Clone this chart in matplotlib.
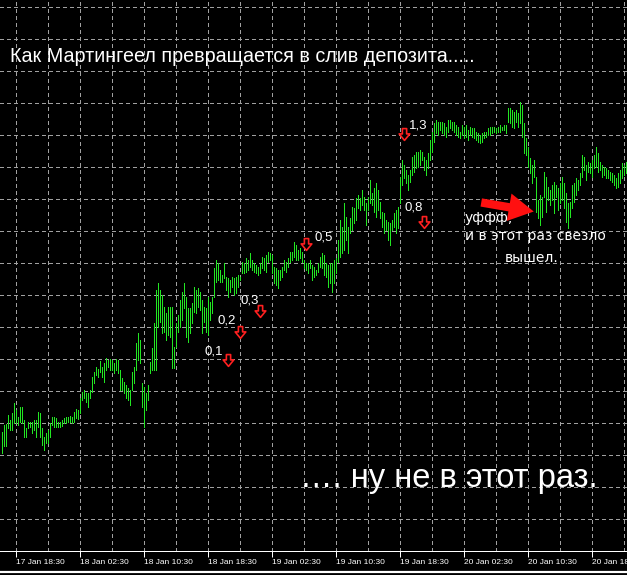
import numpy as np
import pandas as pd
import matplotlib
matplotlib.use("Agg")
import matplotlib.pyplot as plt
from matplotlib.path import Path
from matplotlib.lines import Line2D

# === DATA: M15 bars, prices in points above BASE ===
BASE = 1.2900
POINT = 0.0001
bar_times = pd.date_range("2012-01-17 16:45", periods=313, freq="15min")

high_pts = [
    68, 75, 76, 85, 80, 87, 97, 90, 83, 93, 93, 80, 72, 78, 78, 78, 80, 80, 88, 87,
    72, 63, 67, 70, 77, 83, 83, 82, 78, 78, 80, 82, 83, 83, 84, 83, 88, 91, 90, 102,
    108, 110, 107, 107, 110, 123, 128, 133, 131, 139, 133, 137, 142, 140, 141, 140, 137, 141, 140, 130,
    122, 118, 115, 112, 110, 128, 133, 157, 167, 160, 117, 113, 107, 115, 138, 152, 177, 210, 217, 210,
    205, 193, 187, 193, 193, 193, 153, 177, 185, 200, 208, 217, 203, 192, 192, 197, 213, 210, 212, 208,
    200, 193, 192, 203, 198, 203, 232, 240, 237, 230, 225, 237, 223, 222, 220, 223, 222, 223, 225, 223,
    238, 237, 242, 240, 247, 240, 237, 235, 233, 237, 243, 242, 245, 248, 247, 245, 233, 232, 230, 230,
    233, 240, 238, 242, 248, 248, 258, 255, 250, 252, 248, 240, 237, 237, 240,
    235, 233, 230, 237, 243, 247, 245, 237, 235, 237, 237, 240, 242, 260, 280, 273, 297, 283, 273, 282,
    293, 292, 302, 305, 302, 310, 303, 297, 303, 320, 307, 312, 317, 310, 298, 288, 287, 280, 278, 277,
    280, 287, 290, 293, 323, 340, 335, 330, 325, 330, 343, 345, 348, 348, 350, 348, 343, 340, 347, 360,
    368, 377, 380, 378, 378, 378, 377, 373, 380, 380, 378, 378, 375, 373, 368,
    375, 373, 375, 370, 373, 372, 372, 368, 367, 365, 367, 368, 368, 372, 373, 373, 373, 372, 373, 375,
    373, 375, 375, 392, 392, 390, 388, 390, 387, 398, 395, 377, 362, 353, 342, 335, 340, 323, 300, 305,
    303, 328, 323, 313, 310, 315, 318, 315, 312, 317, 323, 317, 307, 297, 298, 315, 317, 322, 320, 327,
    345, 343, 335, 338, 337, 340, 345, 353, 347, 338, 335, 333, 332, 330, 328, 327, 325, 322, 327, 330,
    337, 335, 338,
]
low_pts = [
    47, 54, 54, 72, 70, 70, 77, 77, 75, 78, 77, 63, 63, 72, 73, 67, 70, 63, 73, 63,
    55, 50, 57, 57, 63, 75, 73, 73, 73, 73, 74, 77, 77, 78, 78, 77, 78, 82, 81, 87,
    100, 102, 98, 93, 102, 108, 117, 125, 123, 128, 123, 118, 130, 133, 130, 130, 127, 130, 127, 110,
    110, 107, 102, 100, 95, 110, 117, 130, 140, 137, 93, 73, 90, 100, 127, 130, 130, 130, 173, 178,
    167, 168, 160, 165, 163, 132, 132, 153, 168, 173, 180, 192, 163, 158, 167, 177, 188, 187, 193, 190,
    167, 178, 168, 165, 180, 187, 203, 218, 220, 218, 218, 222, 210, 203, 208, 213, 205, 207, 213, 220,
    227, 227, 228, 230, 233, 230, 228, 227, 225, 227, 232, 230, 228, 238, 240, 227, 217, 215, 212, 220,
    223, 230, 228, 233, 238, 240, 243, 240, 240, 242, 238, 232, 230, 227, 232,
    220, 223, 225, 228, 233, 232, 225, 223, 213, 217, 208, 217, 227, 238, 243, 247, 250, 260, 247, 267,
    270, 277, 280, 292, 290, 295, 290, 275, 290, 297, 295, 288, 283, 290, 282, 273, 267, 270, 260, 255,
    270, 273, 267, 272, 297, 315, 322, 317, 310, 318, 325, 328, 332, 333, 335, 340, 330, 325, 332, 340,
    348, 358, 367, 365, 370, 367, 365, 363, 368, 372, 370, 368, 365, 363, 362,
    365, 362, 363, 360, 365, 363, 362, 360, 358, 357, 358, 362, 363, 365, 365, 367, 368, 367, 368, 368,
    370, 370, 367, 378, 377, 373, 372, 378, 373, 377, 363, 347, 345, 333, 327, 317, 323, 288, 282, 275,
    283, 303, 288, 300, 295, 300, 287, 303, 290, 297, 300, 292, 278, 272, 283, 292, 298, 305, 310, 315,
    323, 330, 320, 328, 327, 323, 332, 333, 328, 330, 323, 325, 322, 322, 320, 318, 315, 312, 313, 317,
    322, 325, 327,
]

# martingale sell entries: bar number, price (points), lot size
sell_bar = [113, 119, 129, 152, 211, 201]
sell_pts = [140, 168, 189, 256, 278, 366]
sell_lots = ["0,1", "0,2", "0,3", "0,5", "0,8", "1,3"]
# where each lot label sits relative to its arrow (pixels)
lot_offsets = [(-14, 8), (-13, 12), (-10, 11), (18, 7), (-10, 15), (15, 9)]

title = "Как Мартингеел превращается в слив депозита....."
note_top = "уффф,"
note_mid = "и в этот раз свезло"
note_bot = "вышел."
punchline = "…. ну не в этот раз."

high = BASE + np.array(high_pts) * POINT
low = BASE + np.array(low_pts) * POINT
idx = np.arange(len(bar_times))

# === FIGURE ===
W, H = 627, 575
fig = plt.figure(figsize=(W / 100, H / 100), dpi=100, facecolor="black")
ax = fig.add_axes([0, 24.5 / H, 1, 550.5 / H], facecolor="black")

ax.set_xlim(-0.75, 312.75)
ax.set_ylim(BASE - 50.5 * POINT, BASE + 500 * POINT)

# grid every 32 px like the terminal
grid_kw = dict(color="#a0a0a0", lw=0.72, ls=(0, (4, 4)), antialiased=False, zorder=1)
for gx in np.arange(7, 313, 16):
    ax.axvline(gx, **grid_kw)
for gy in np.arange(493.5, -40, -32):
    ax.axhline(BASE + gy * POINT, **grid_kw)

ax.vlines(idx, low, high, color="#22e622", lw=0.72, antialiased=False, zorder=3)

# sell arrows (hollow down arrow)
arrow_path = Path([(-0.18, 0.5), (0.18, 0.5), (0.18, 0.05), (0.45, 0.05), (0, -0.5),
                   (-0.45, 0.05), (-0.18, 0.05), (-0.18, 0.5)], closed=True)
ax.plot(sell_bar, BASE + np.array(sell_pts) * POINT, ls="none", marker=arrow_path,
        ms=8.5, mfc="black", mec="#ff2020", mew=1.2, zorder=5)
for b, p, lot, (dx, dy) in zip(sell_bar, sell_pts, sell_lots, lot_offsets):
    ax.annotate(lot, (b, BASE + p * POINT), xytext=(dx, dy), textcoords="offset pixels",
                ha="center", va="center", color="white", fontsize=9.5,
                family="Liberation Sans", zorder=6)

# time scale
ax.set_xticks(np.arange(7, 313, 32))
ax.set_xticklabels([t.strftime("%d %b %H:%M") for t in bar_times[7::32]],
                   ha="left", color="white", fontsize=6, family="Liberation Sans")
ax.tick_params(axis="x", length=4, width=0.72, color="white", pad=2)
ax.set_yticks([])
for s in ["top", "left", "right"]:
    ax.spines[s].set_visible(False)
ax.spines["bottom"].set_color("white")
ax.spines["bottom"].set_linewidth(0.72)
fig.add_artist(Line2D([0, 1], [3.5 / H, 3.5 / H], color="white", lw=1.6))
# previous label, only its tail shows at the left edge
prev_label = (bar_times[7] - pd.Timedelta(hours=8)).strftime("%d %b %H:%M")
fig.text(-48.5 / W, 1 - 562 / H, prev_label, color="white", fontsize=6,
         family="Liberation Sans", ha="left", va="center")

# texts
fig.text(10 / W, 1 - 57 / H, title, color="white", fontsize=14.2, family="Liberation Sans",
         ha="left", va="center")
fig.text(300 / W, 1 - 478 / H, punchline, color="white", fontsize=23.5, family="Liberation Sans",
         ha="left", va="center")
fig.text(465 / W, 1 - 218 / H, note_top, color="white", fontsize=10, family="DejaVu Sans",
         ha="left", va="center")
fig.text(465 / W, 1 - 236 / H, note_mid, color="white", fontsize=10, family="DejaVu Sans",
         ha="left", va="center")
fig.text(505 / W, 1 - 258 / H, note_bot, color="white", fontsize=10, family="DejaVu Sans",
         ha="left", va="center")

# hand drawn red pointer
ax.annotate("", xy=(267.5, BASE + 288 * POINT), xytext=(-58, 10), textcoords="offset pixels",
            arrowprops=dict(arrowstyle="simple,head_length=0.9,head_width=1.0,tail_width=0.3",
                            mutation_scale=20, color="#ff1010", lw=0), zorder=7)

fig.savefig("out.png", dpi=100, facecolor="black")
